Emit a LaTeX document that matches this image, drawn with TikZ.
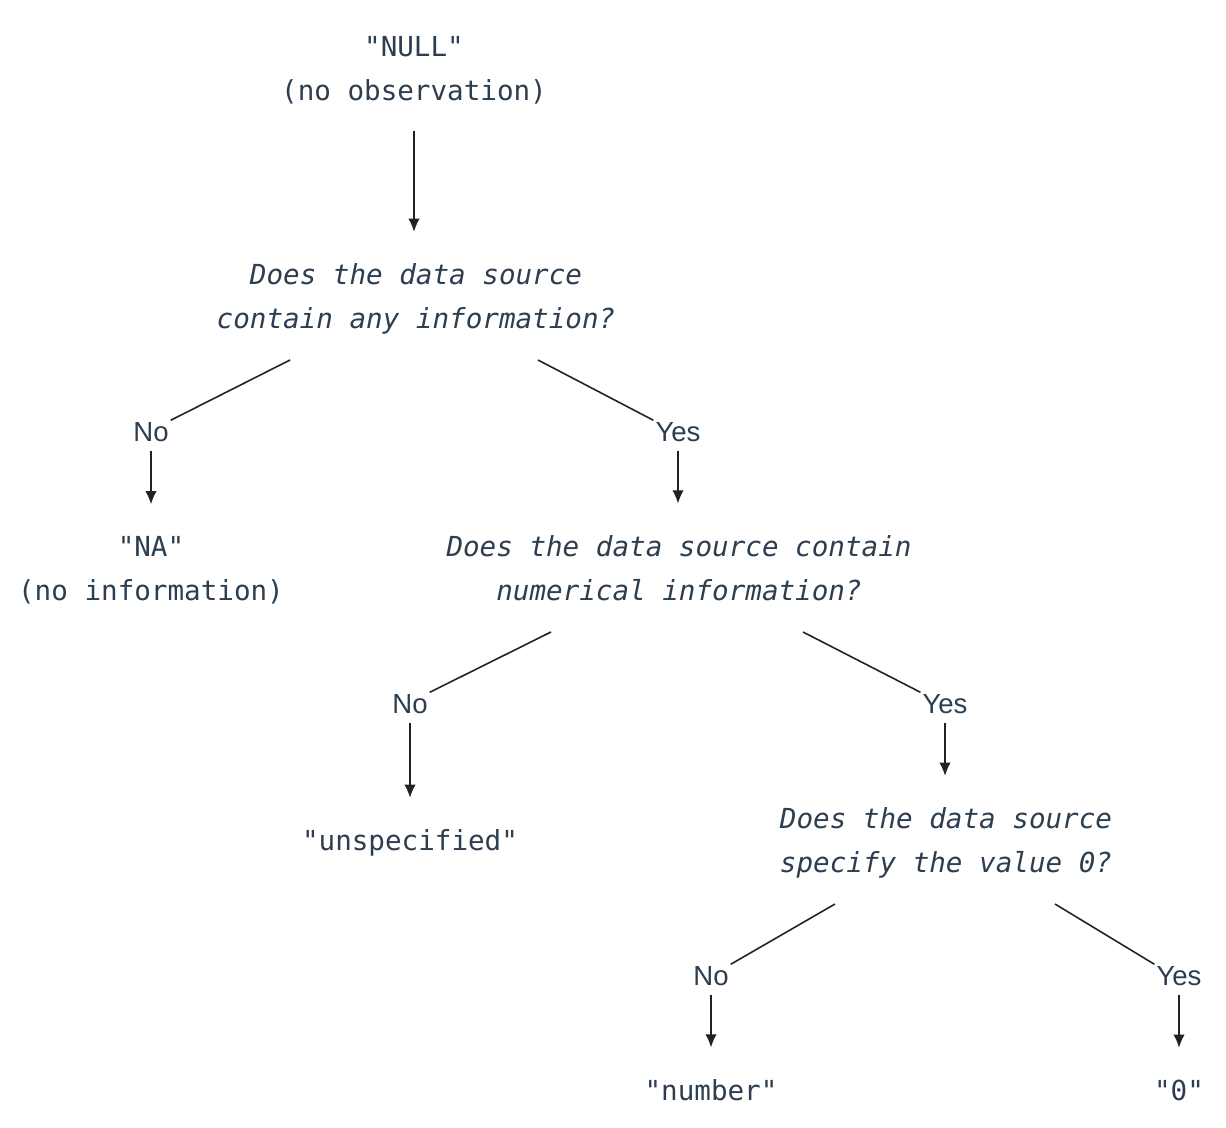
\documentclass[tikz,border=0pt]{standalone}
\usepackage{fontspec}
\setmainfont{Liberation Sans}
\setsansfont{Liberation Sans}
\setmonofont{DejaVu Sans Mono}
\usetikzlibrary{arrows.meta}
\definecolor{slate}{HTML}{2C3E50}
\definecolor{edge}{HTML}{222222}

\begin{document}
\begin{tikzpicture}[x=0.02cm,y=-0.02cm,
  every node/.style={text=slate,inner sep=2pt},
  val/.style={font=\fontsize{15.7}{25}\ttfamily,align=center},
  ask/.style={font=\fontsize{15.7}{25}\ttfamily\itshape,align=center},
  ans/.style={font=\fontsize{15.7}{19}\sffamily,inner sep=1pt},
  link/.style={draw=edge,line width=0.9pt},
  down/.style={link,-{Latex[length=7.5pt,width=6.5pt]},shorten <=0.14cm,shorten >=0.56cm}]
\useasboundingbox (0,0) rectangle (1226,1128);

\node[val] (null) at (414,70) {"NULL"\\(no observation)};
\node[ask] (q1) at (416,299) {Does the data source\\contain any information?};
\node[ans] (no1) at (151,432) {No};
\node[ans] (yes1) at (678,432) {Yes};
\node[val] (na) at (151,570) {"NA"\\(no information)};
\node[ask] (q2) at (679,568) {Does the data source contain\\numerical information?};
\node[ans] (no2) at (410,704) {No};
\node[ans] (yes2) at (945,704) {Yes};
\node[val] (unspec) at (410,843) {"unspecified"};
\node[ask] (q3) at (946,843) {Does the data source\\specify the value 0?};
\node[ans] (no3) at (711,976) {No};
\node[ans] (yes3) at (1179,976) {Yes};
\node[val] (number) at (711,1090) {"number"};
\node[val] (zero) at (1179,1090) {"0"};

\coordinate (q1l) at (290,360);
\coordinate (q1r) at (538,360);
\coordinate (q2l) at (551,632);
\coordinate (q2r) at (803,632);
\coordinate (q3l) at (835,904);
\coordinate (q3r) at (1055,904);

\draw[down,shorten <=0.46cm] (null.south) -- (null.south |- q1.north);
\draw[link] (q1l) -- (no1.north east);
\draw[link] (q1r) -- (yes1.north west);
\draw[down] (no1.south) -- (na.north);
\draw[down] (yes1.south) -- (yes1.south |- q2.north);
\draw[link] (q2l) -- (no2.north east);
\draw[link] (q2r) -- (yes2.north west);
\draw[down] (no2.south) -- (unspec.north);
\draw[down] (yes2.south) -- (yes2.south |- q3.north);
\draw[link] (q3l) -- (no3.north east);
\draw[link] (q3r) -- (yes3.north west);
\draw[down] (no3.south) -- (number.north);
\draw[down] (yes3.south) -- (zero.north);
\end{tikzpicture}
\end{document}
